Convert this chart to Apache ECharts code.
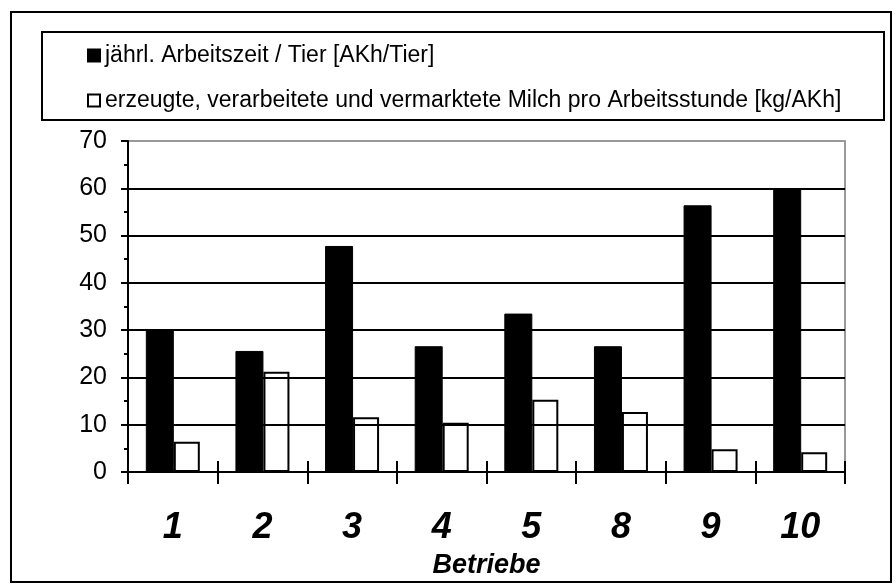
<!DOCTYPE html>
<html>
<head>
<meta charset="utf-8">
<script src="https://cdn.jsdelivr.net/npm/echarts@6/dist/echarts.min.js"></script>
<style>
html,body{margin:0;padding:0;background:#fff;}
#chart{width:896px;height:584px;}
</style>
</head>
<body>
<div id="chart"></div>
<script>
var categories = ['1', '2', '3', '4', '5', '8', '9', '10'];
var arbeitszeit = [30, 25.6, 47.8, 26.6, 33.5, 26.6, 56.4, 60];
var milch = [6.4, 21.2, 11.6, 10.4, 15.3, 12.7, 4.8, 4.2];
var seriesNames = ['jährl. Arbeitszeit / Tier [AKh/Tier]', 'erzeugte, verarbeitete und vermarktete Milch pro Arbeitsstunde [kg/AKh]'];
var yTicks = [0, 10, 20, 30, 40, 50, 60, 70];
var xAxisName = 'Betriebe';

var chart = echarts.init(document.getElementById('chart'), null, {renderer: 'canvas'});
var FONT = '"Liberation Sans", Arial, sans-serif';
var option = {
  animation: false,
  backgroundColor: '#fff',
  textStyle: {fontFamily: FONT},
  graphic: [
    {type: 'rect', shape: {x: 11, y: 12, width: 880, height: 570}, style: {fill: 'none', stroke: '#000', lineWidth: 2}, z: 0},
    {type: 'rect', shape: {x: 42, y: 32, width: 842, height: 88}, style: {fill: '#fff', stroke: '#000', lineWidth: 2}, z: 1}
  ],
  legend: {
    orient: 'vertical',
    left: 87,
    top: 44,
    padding: 0,
    itemWidth: 12,
    itemHeight: 12,
    itemGap: 22,
    icon: 'rect',
    z: 5,
    textStyle: {fontFamily: FONT, fontSize: 23, color: '#000'},
    data: seriesNames
  },
  grid: {left: 128, right: 51, top: 141, bottom: 107, containLabel: false},
  xAxis: [
    {
      type: 'category',
      data: categories,
      position: 'bottom',
      boundaryGap: true,
      axisLine: {show: true, lineStyle: {color: '#000', width: 2}},
      axisTick: {show: true, interval: 0, length: 12, lineStyle: {color: '#000', width: 2}},
      axisLabel: {margin: 38, fontSize: 36, fontWeight: 'bold', fontStyle: 'italic', color: '#000', fontFamily: FONT},
      name: xAxisName,
      nameLocation: 'middle',
      nameGap: 80,
      nameTextStyle: {fontSize: 27, fontWeight: 'bold', fontStyle: 'italic', color: '#000', fontFamily: FONT},
      splitLine: {show: false},
      z: 10
    },
    {
      type: 'category',
      data: categories,
      position: 'bottom',
      boundaryGap: true,
      axisLine: {show: false},
      axisTick: {show: true, inside: true, interval: 0, length: 11, lineStyle: {color: '#000', width: 2}},
      axisLabel: {show: false},
      splitLine: {show: false},
      z: 10
    }
  ],
  yAxis: [
    {
      type: 'value',
      min: yTicks[0],
      max: yTicks[yTicks.length - 1],
      interval: 10,
      axisLine: {show: true, lineStyle: {color: '#000', width: 2}},
      axisTick: {show: true, length: 7, lineStyle: {color: '#000', width: 2}},
      minorTick: {show: true, splitNumber: 2, length: 4, lineStyle: {color: '#000', width: 2}},
      axisLabel: {fontSize: 25, color: '#000', margin: 21, fontFamily: FONT},
      splitLine: {show: true, lineStyle: {color: ['#000', '#000', '#000', '#000', '#000', '#000', '#000', '#999'], width: 2}},
      z: 10
    },
    {
      type: 'value',
      position: 'right',
      min: yTicks[0],
      max: yTicks[yTicks.length - 1],
      interval: 10,
      axisLine: {show: true, lineStyle: {color: '#999', width: 2}},
      axisTick: {show: false},
      axisLabel: {show: false},
      splitLine: {show: false}
    }
  ],
  series: [
    {
      name: seriesNames[0],
      type: 'bar',
      data: arbeitszeit,
      barWidth: 28,
      barGap: '0%',
      itemStyle: {color: '#000', borderColor: '#000', borderWidth: 1},
      z: 3
    },
    {
      name: seriesNames[1],
      type: 'bar',
      data: milch,
      barWidth: 26,
      barGap: '0%',
      itemStyle: {color: '#fff', borderColor: '#000', borderWidth: 2},
      z: 3
    }
  ]
};
chart.setOption(option);
</script>
</body>
</html>
